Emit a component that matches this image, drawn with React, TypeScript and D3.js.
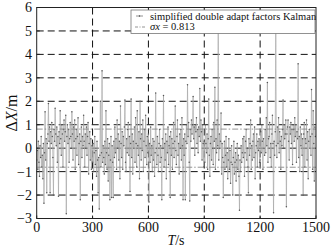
import React from 'react';
import * as d3 from 'd3';

// position error (m), one value every 3 s
const step = 3;
const errors: number[] = [
  -0.5, -0.1, -0.9, 0.3, -0.6, -1.2, 0.1, -0.4, 0.5, -0.8,
  -0.3, -1.3, 0.2, -2.35, -0.2, 1.55, -0.5, 0.4, -1.9, 0.2,
  0.6, 1.9, 0.3, 0.9, -1.9, 0.7, 0.2, 1.1, 0.5, -0.4,
  -2.0, 0.8, 0.3, 1.7, 0.6, 0.1, 0.9, -0.6, 0.5, -2.05,
  0.7, 0.2, 1.6, 0.4, -0.3, 1.0, 0.6, -0.8, 0.8, 1.2,
  0.3, 0.7, 1.4, -2.8, 0.5, 1.0, 0.2, 0.8, -0.6, 0.4,
  1.1, 0.5, 0.0, 1.55, 0.6, -0.5, 0.9, 0.3, 1.2, -0.9,
  0.4, 0.8, -0.3, 0.5, 1.3, -0.7, 0.2, 0.6, -2.2, 0.3,
  0.9, -0.4, 0.5, 0.1, 1.4, 0.3, -0.8, 0.6, 0.0, 0.9,
  -0.3, 0.5, 1.1, -1.1, 0.2, 0.7, -0.5, 0.4, -0.9, 0.1,
  // 300 s
  -0.6, 0.2, -1.0, -0.2, 0.5, -0.7, -0.1, -1.2, 0.3, -0.5,
  -1.9, -0.4, -2.6, -0.3, 2.0, -0.8, -0.2, 3.3, -0.6, 0.1,
  -0.4, -1.1, 0.3, -0.7, 1.6, -0.2, -0.9, 0.4, -1.4, -0.3,
  0.2, -2.2, -0.5, 0.5, -2.1, 0.1, -0.6, -2.1, 0.3, -0.4,
  0.9, -0.2, 0.4, -0.9, 1.2, 0.0, 0.6, -0.5, 0.3, -1.3,
  1.8, 0.2, -0.4, 0.7, -0.9, 0.5, 0.1, 0.9, 2.05, -0.6,
  -1.0, 0.4, -0.2, 0.8, 1.1, -0.3, 0.5, -1.85, 0.2, 2.1,
  -0.4, 0.6, -1.1, 0.3, 0.0, 0.9, -0.6, 1.3, 0.2, -0.8,
  1.6, 0.1, -0.3, 0.7, -1.3, 2.0, 0.4, -0.5, 0.6, -0.1,
  1.2, -1.0, 0.3, 0.8, -0.4, 1.4, 0.1, -0.7, 0.5, -0.2,
  // 600 s
  0.6, -2.3, 0.2, -0.6, 0.9, -0.3, 0.1, -1.0, 0.4, -0.5,
  0.3, -1.2, -0.2, 2.35, 0.0, -0.7, 0.5, -0.3, -1.0, 0.2,
  0.8, -0.6, 0.1, -0.4, -2.2, 0.4, 0.0, 2.25, -0.8, 0.2,
  -0.5, 0.6, -1.3, 0.3, -0.2, 0.9, -0.7, 0.1, 0.5, -2.1,
  0.7, -0.3, 0.4, -0.9, 0.2, 1.1, -0.4, 0.3, 1.8, -0.1,
  -0.7, 0.5, 1.2, -0.3, 0.2, -1.1, 0.6, 0.0, 0.8, -0.5,
  1.3, 0.1, -2.2, 0.4, -0.3, 0.6, -2.2, 0.3, 1.0, 0.2,
  2.7, 0.5, 1.1, -0.6, -2.25, 0.8, 0.3, 1.2, 0.6, 1.0,
  2.2, 0.4, 0.9, -0.3, 1.0, 0.7, 1.3, 0.2, 0.8, -0.2,
  0.9, 0.5, 2.55, 0.3, 1.2, 0.7, -0.5, 1.0, 0.2, -0.8,
  // 900 s
  0.3, -0.6, 1.0, 0.2, -0.2, 0.6, -0.9, 0.4, 2.1, -0.3,
  -1.2, 0.2, 0.5, -0.5, 0.8, 0.0, -0.7, 1.1, 0.3, 2.6,
  -0.9, 0.4, -0.2, 1.2, 0.1, 5.4, -0.5, 0.6, 0.0, 0.3,
  1.5, -1.1, 0.2, -0.4, -2.1, -0.6, 0.3, -0.9, -0.3, 0.5,
  -0.8, -0.2, -1.3, -0.5, 0.4, -0.9, -0.1, -1.5, -0.6, 0.1,
  -0.7, -2.0, -0.4, 0.3, -1.1, -0.6, -0.2, -1.4, -0.5, 0.2,
  -0.9, -0.3, -1.2, -2.65, -0.5, -1.0, 0.1, -0.6, -0.2, 0.4,
  -0.4, 0.5, -1.2, -0.2, 0.3, 0.8, -0.5, 0.0, -0.8, -1.9,
  0.4, -0.3, 0.2, 1.2, -0.9, 0.1, -0.5, 0.3, 0.6, -0.4,
  0.9, -1.3, -0.2, 0.1, 0.6, -0.8, 0.3, -0.1, 0.4, -0.6,
  // 1200 s
  -0.5, 0.7, -0.2, 1.0, 0.3, -0.9, 0.4, 0.0, -0.3, 0.8,
  -0.2, 1.3, 0.1, 2.8, -0.6, 0.4, 0.5, 1.1, -0.4, 0.2,
  -0.8, 0.6, 1.4, 0.2, -2.75, 0.3, -0.3, 0.7, 5.5, 0.1,
  -0.4, 0.9, 0.2, 1.3, -0.2, 0.7, 0.3, -0.9, 0.5, 0.1,
  0.8, 2.05, 0.0, 1.0, 0.4, 0.6, 1.2, -2.5, 0.6, 0.9,
  1.2, 0.3, -0.5, 0.9, 0.6, 1.1, 0.2, 0.8, -0.7, 1.0,
  0.8, 0.3, 1.3, 0.5, 1.0, -0.6, 0.7, 0.4, 3.6, -0.4,
  0.5, -1.0, 0.9, 0.1, 0.6, -0.3, 0.4, -2.0, 0.6, 1.1,
  -0.8, 0.4, 0.2, 1.2, -0.5, 0.7, -1.3, 0.3, 0.8, 0.0,
  0.5, -0.3, 2.5, 0.6, -0.9, 1.6, 0.2, -1.4, 0.9, 0.5,
];

const sigma = 0.813;
const xTicks = [0, 300, 600, 900, 1200, 1500];
const yTicks = [-3, -2, -1, 0, 1, 2, 3, 4, 5, 6];
const legendLabels = ['simplified double adapt factors Kalman', 'σx', ' = 0.813'];

const W = 334;
const H = 252;
const m = { left: 36.7, right: 18, top: 7.5, bottom: 33.5 };
const font = "'Liberation Serif', 'DejaVu Serif', serif";

export default function App() {
  const x = d3.scaleLinear().domain([0, 1500]).range([m.left, W - m.right]);
  const y = d3.scaleLinear().domain([-3, 6]).range([H - m.bottom, m.top]);

  const pts = errors.map((v, i) => ({ t: i * step, v }));
  const line = d3.line<{ t: number; v: number }>()
    .x(d => x(d.t))
    .y(d => y(d.v));

  const [x0, x1] = x.range();
  const [yb, yt] = y.range();
  const ts = { fontFamily: font };

  return (
    <div style={{ position: 'absolute', left: 0, top: 0 }}>
      <svg width={W} height={H} style={{ display: 'block', background: '#fff', fontFamily: font }}>
        <defs>
          <clipPath id="plot">
            <rect x={x0} y={yt} width={x1 - x0} height={yb - yt} />
          </clipPath>
        </defs>

        {/* grid */}
        {yTicks.filter(v => v > -3 && v < 6).map(v => (
          <line key={'gy' + v} x1={x0} x2={x1} y1={y(v)} y2={y(v)}
            stroke="#111" strokeWidth={1} strokeDasharray="7,4" />
        ))}
        {xTicks.filter(t => t > 0 && t < 1500).map(t => (
          <line key={'gx' + t} x1={x(t)} x2={x(t)} y1={yt} y2={yb}
            stroke="#111" strokeWidth={1} strokeDasharray="7,4" />
        ))}

        {/* data */}
        <g clipPath="url(#plot)">
          <path d={line(pts) ?? ''} fill="none" stroke="#a8a8a8" strokeWidth={0.7} />
          {pts.map((d, i) => (
            <circle key={i} cx={x(d.t)} cy={y(d.v)} r={0.75} fill="#555" />
          ))}
          {[sigma, -sigma].map(s => (
            <line key={'s' + s} x1={x0} x2={x1} y1={y(s)} y2={y(s)}
              stroke="#888" strokeWidth={0.9} strokeDasharray="6,2,1.5,2" />
          ))}
        </g>

        {/* frame */}
        <rect x={x0} y={yt} width={x1 - x0} height={yb - yt} fill="none" stroke="#222" strokeWidth={1} />
        {xTicks.map(t => (
          <g key={'xt' + t}>
            <line x1={x(t)} x2={x(t)} y1={yb} y2={yb - 3} stroke="#222" />
            <text x={x(t)} y={232} textAnchor="middle" fontSize={14} fill="#111" style={ts}>{t}</text>
          </g>
        ))}
        {yTicks.map(v => (
          <g key={'yt' + v}>
            <line x1={x0} x2={x0 + 3} y1={y(v)} y2={y(v)} stroke="#222" />
            <text x={32} y={y(v)} dy="0.35em" textAnchor="end" fontSize={14} fill="#111" style={ts}>
              {v < 0 ? '\u2212' + Math.abs(v) : v}
            </text>
          </g>
        ))}

        {/* axis labels */}
        <text x={176} y={245} textAnchor="middle" fontSize={14} fill="#111" style={ts}>
          <tspan fontStyle="italic">T</tspan>/s
        </text>
        <text transform={`translate(17,${(yt + yb) / 2}) rotate(-90)`} textAnchor="middle" fontSize={16} fill="#111" style={ts}>
          Δ<tspan fontStyle="italic">X</tspan>/m
        </text>

        {/* legend */}
        <rect x={131} y={10} width={184} height={23.5} fill="#fff" stroke="#777" strokeWidth={0.8} />
        <line x1={136} x2={143} y1={16} y2={16} stroke="#777" strokeWidth={0.8} />
        <circle cx={139.5} cy={16} r={0.7} fill="#444" />
        <text x={150} y={19.5} fontSize={10.5} fill="#111" style={ts}>{legendLabels[0]}</text>
        <line x1={135} x2={146} y1={27} y2={27} stroke="#888" strokeWidth={0.9} strokeDasharray="3,1.5,1,1.5" />
        <text x={150} y={30} fontSize={10.5} fill="#111" style={ts}>
          <tspan fontStyle="italic">{legendLabels[1]}</tspan>{legendLabels[2]}
        </text>
      </svg>
    </div>
  );
}
